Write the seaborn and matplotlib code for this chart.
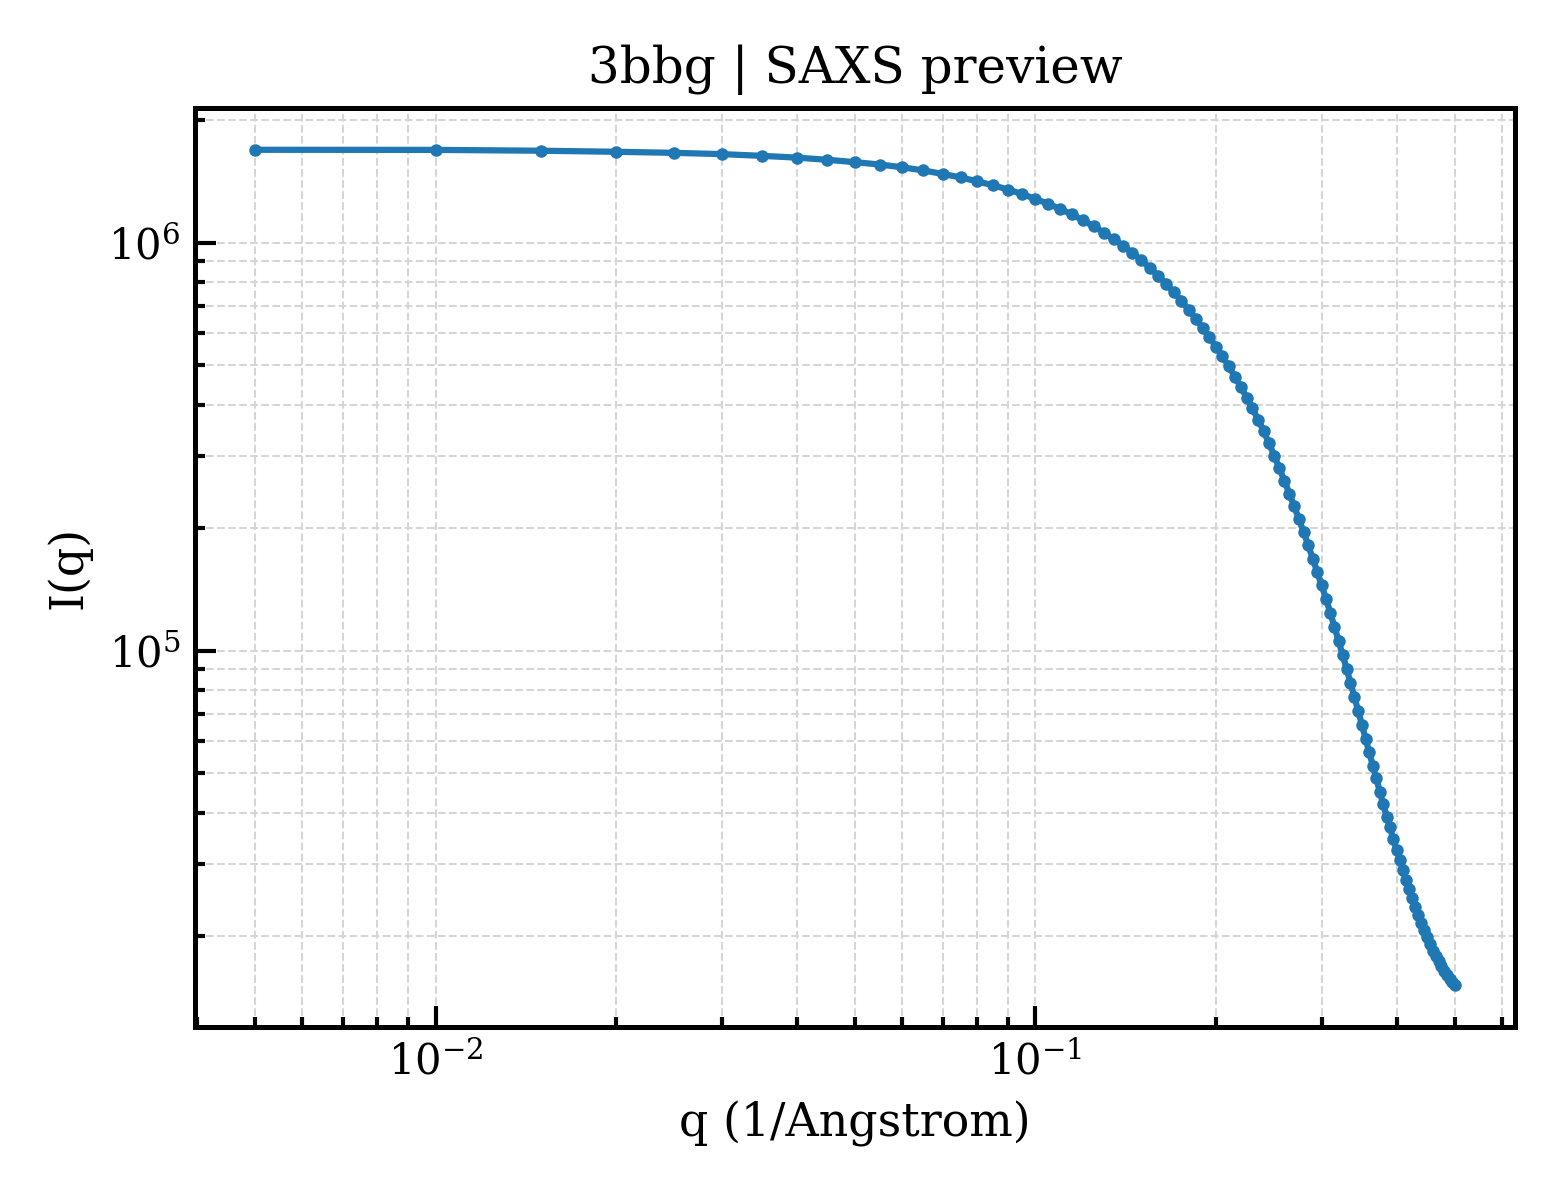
import numpy as np
import pandas as pd
import seaborn as sns
import matplotlib
matplotlib.use('Agg')
import matplotlib.pyplot as plt

sns.set_style('ticks')
plt.rcParams['font.family'] = ['DejaVu Serif']
plt.rcParams['mathtext.fontset'] = 'dejavuserif'
plt.rcParams['text.color'] = 'black'
plt.rcParams['axes.labelcolor'] = 'black'
plt.rcParams['xtick.color'] = 'black'
plt.rcParams['ytick.color'] = 'black'


# Data
q = [0.005, 0.010, 0.015, 0.020, 0.025, 0.030, 0.035, 0.040, 0.045, 0.050,
     0.055, 0.060, 0.065, 0.070, 0.075, 0.080, 0.085, 0.090, 0.095, 0.100,
     0.105, 0.110, 0.115, 0.120, 0.125, 0.130, 0.135, 0.140, 0.145, 0.150,
     0.155, 0.160, 0.165, 0.170, 0.175, 0.180, 0.185, 0.190, 0.195, 0.200,
     0.205, 0.210, 0.215, 0.220, 0.225, 0.230, 0.235, 0.240, 0.245, 0.250,
     0.255, 0.260, 0.265, 0.270, 0.275, 0.280, 0.285, 0.290, 0.295, 0.300,
     0.305, 0.310, 0.315, 0.320, 0.325, 0.330, 0.335, 0.340, 0.345, 0.350,
     0.355, 0.360, 0.365, 0.370, 0.375, 0.380, 0.385, 0.390, 0.395, 0.400,
     0.405, 0.410, 0.415, 0.420, 0.425, 0.430, 0.435, 0.440, 0.445, 0.450,
     0.455, 0.460, 0.465, 0.470, 0.475, 0.480, 0.485, 0.490, 0.495, 0.500]

intensity = [1690000, 1689000, 1681000, 1671000, 1661000, 1649000, 1633000, 1617000, 1597000, 1576000,
             1555000, 1531000, 1504000, 1475000, 1446000, 1414000, 1383000, 1350000, 1317000, 1280000,
             1246000, 1210000, 1173000, 1135000, 1097000, 1059000, 1021000, 982600, 945100, 907000,
             868800, 830900, 793400, 756700, 720900, 685600, 651100, 618200, 586400, 555400,
             526100, 497200, 469400, 442600, 416900, 392400, 368500, 345700, 322600, 300600,
             280000, 260700, 242500, 225600, 209800, 195000, 181000, 167900, 155700, 144500,
             134000, 123900, 114500, 105800, 97770, 90350, 83480, 77140, 71280, 65870,
             60850, 56390, 52250, 48570, 45110, 41940, 39180, 36830, 34420, 32350,
             30570, 28890, 27310, 25960, 24670, 23450, 22410, 21420, 20590, 19800,
             19030, 18390, 17780, 17290, 16810, 16340, 15970, 15620, 15360, 15100]

df = pd.DataFrame({'q': q, 'I': intensity})


# Figure
fig, ax = plt.subplots(figsize=(5.2, 4.0), dpi=300)
fig.subplots_adjust(left=0.125, right=0.971, bottom=0.144, top=0.91)

sns.lineplot(data=df, x='q', y='I', ax=ax,
             color='#1f77b4', linewidth=1.5,
             marker='o', markersize=3, markeredgewidth=0)

ax.set_xscale('log')
ax.set_yscale('log')
ax.grid(True, which='both', linestyle='--', linewidth=0.5, color='#d6d6d6')
ax.set_axisbelow(True)

ax.tick_params(which='both', direction='in', bottom=True, left=True,
               top=False, right=False, labelsize=10, width=1.0, color='black')
ax.tick_params(which='major', length=5)
ax.tick_params(which='minor', length=2.5)
for s in ax.spines.values():
    s.set_visible(True)
    s.set_linewidth(1.2)
    s.set_color('black')

ax.set_title('3bbg | SAXS preview', fontsize=12)
ax.set_xlabel('q (1/Angstrom)', fontsize=11)
ax.set_ylabel('I(q)', fontsize=11)

plt.savefig('out.png', dpi=300)
